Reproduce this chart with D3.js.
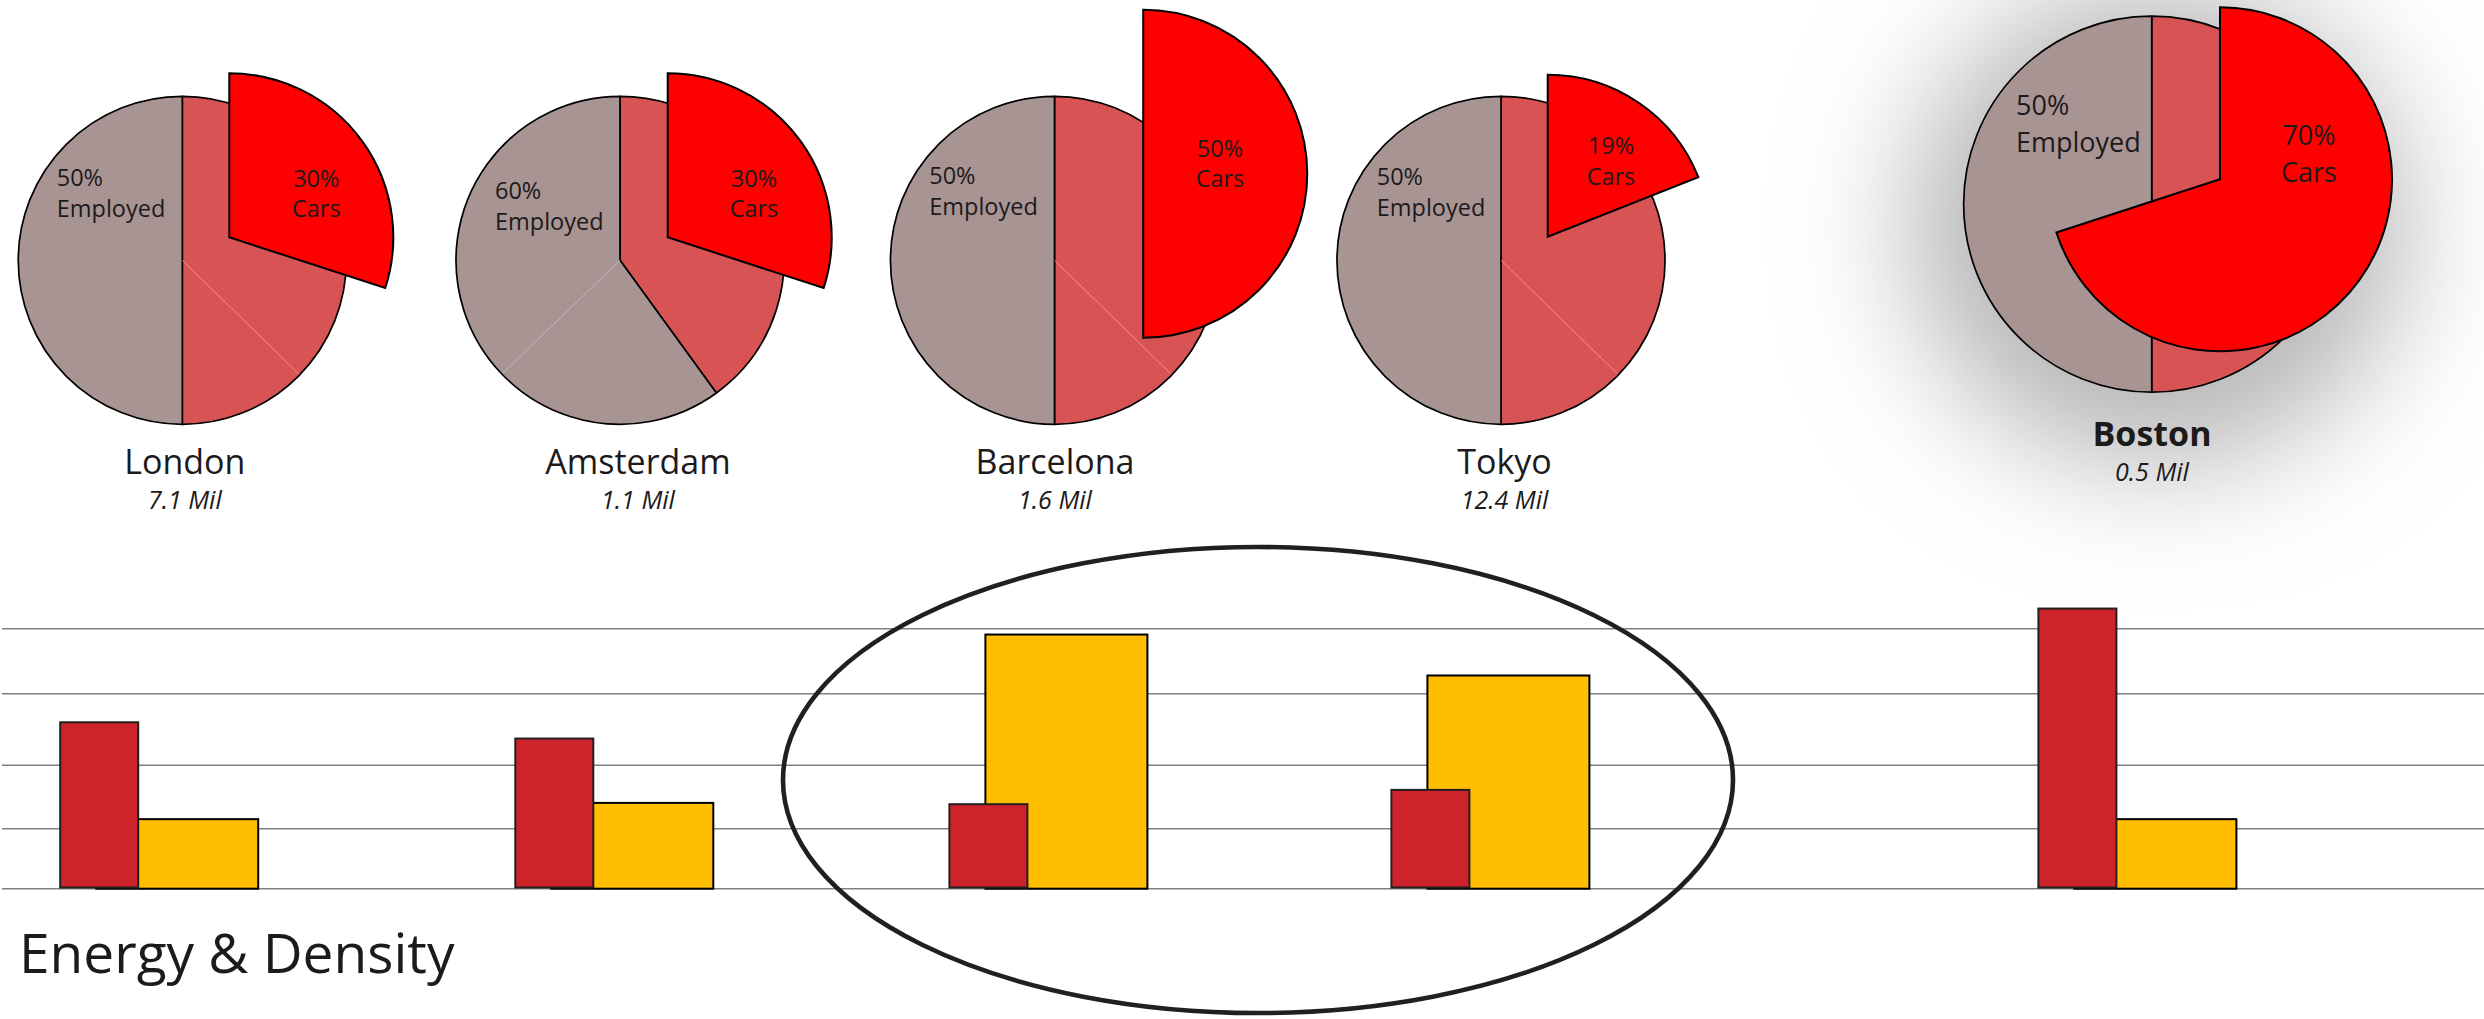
<!DOCTYPE html>
<html>
<head>
<meta charset="utf-8">
<title>Cars, Employment, Energy &amp; Density</title>
<script src="https://cdn.jsdelivr.net/npm/d3@7"></script>
<style>
  html, body { margin: 0; padding: 0; background: #ffffff; }
  svg { display: block; }
  text { font-family: "Open Sans", "Noto Sans", "DejaVu Sans", sans-serif; fill: #1c1a1a; }
</style>
</head>
<body>
<svg id="chart" width="2484" height="1019"></svg>
<script>
// ---- data ----------------------------------------------------------
const cities      = ["London", "Amsterdam", "Barcelona", "Tokyo", "Boston"];
const population  = ["7.1 Mil", "1.1 Mil", "1.6 Mil", "12.4 Mil", "0.5 Mil"];
const employedPct = [50, 60, 50, 50, 50];
const carsPct     = [30, 30, 50, 19, 70];
const energy      = [2.56, 2.31, 1.30, 1.52, 4.31];   // red bars
const density     = [1.07, 1.32, 3.91, 3.28, 1.07];   // yellow bars
const gridValues  = [0, 0.923, 1.9, 3, 4];
const highlight   = "Boston";

// ---- layout --------------------------------------------------------
const W = 2484, H = 1019;
const svg = d3.select("#chart");

const pieX   = d3.scaleOrdinal().domain(cities).range([182.3, 620, 1054.5, 1501, 2151.7]);
const pieY   = d3.scaleOrdinal().domain(cities).range([260.3, 260.3, 260.3, 260.3, 204.2]);
const pieR   = d3.scaleOrdinal().domain(cities).range([164, 164, 164, 164, 188]);
const sliceR = d3.scaleOrdinal().domain(cities).range([164, 164, 164, 162, 172]);
// how far the car slice is pulled out of its pie
const explode = d3.scaleOrdinal().domain(cities)
  .range([[47, -23], [47.7, -23], [88.7, -86.6], [46.7, -23.6], [68.3, -24.9]]);
// thin light seam left inside each base pie (angle in turns, null = none)
const seam = d3.scaleOrdinal().domain(cities).range([0.373, 0.628, 0.373, 0.373, null]);
// label anchors (relative to pie centre / slice tip)
const empLabel = d3.scaleOrdinal().domain(cities)
  .range([[-125.6, -74.3], [-125, -61], [-125.3, -76], [-124.3, -75.3], [-135.7, -89]]);
const carLabel = d3.scaleOrdinal().domain(cities)
  .range([[87, -50.6], [86.3, -50.6], [76.8, -17.2], [63.3, -82.7], [89, -34.3]]);
const nameShift = d3.scaleOrdinal().domain(cities).range([2.5, 18, 0.5, 3.5, 0.3]);

const rows = cities.map((c, i) => ({
  city: c, pop: population[i], emp: employedPct[i], cars: carsPct[i],
  energy: energy[i], density: density[i]
}));

const defs = svg.append("defs");
const glow = defs.append("filter").attr("id", "glow")
  .attr("x", "-80%").attr("y", "-80%").attr("width", "260%").attr("height", "260%");
glow.append("feGaussianBlur").attr("stdDeviation", 62);

// soft halo behind the highlighted city
svg.append("ellipse")
  .attr("cx", pieX(highlight) + 6).attr("cy", 226)
  .attr("rx", 248).attr("ry", 240)
  .attr("fill", "#b6b6b6")
  .attr("filter", "url(#glow)");

// ---- pies ----------------------------------------------------------
const pie = d3.pie().sort(null).value(d => d.v);
const TAU = 2 * Math.PI;

const pieG = svg.append("g").selectAll("g.city")
  .data(rows).join("g")
  .attr("class", "city")
  .attr("transform", d => `translate(${pieX(d.city)},${pieY(d.city)})`);

pieG.each(function (d) {
  const g = d3.select(this);
  const r = pieR(d.city);
  const arc = d3.arc().innerRadius(0).outerRadius(r);
  const parts = pie([{ k: "rest", v: 100 - d.emp }, { k: "employed", v: d.emp }]);

  g.selectAll("path.base").data(parts).join("path")
    .attr("class", "base")
    .attr("d", arc)
    .attr("fill", p => p.data.k === "employed" ? "#a99494" : "#d85454")
    .attr("stroke", "#000")
    .attr("stroke-width", 1.7)
    .attr("stroke-linejoin", "round");

  const s = seam(d.city);
  if (s !== null) {
    const end = d3.pointRadial(s * TAU, r - 1.5);
    const inGray = s > (100 - d.emp) / 100;
    g.append("line")
      .attr("x1", 0).attr("y1", 0).attr("x2", end[0]).attr("y2", end[1])
      .attr("stroke", inGray ? "#c9b8b8" : "#eb9c9c")
      .attr("stroke-width", 0.9);
  }

  // exploded car slice
  const [dx, dy] = explode(d.city);
  const slice = g.append("g").attr("transform", `translate(${dx},${dy})`);
  slice.append("path")
    .attr("d", d3.arc()({ innerRadius: 0, outerRadius: sliceR(d.city), startAngle: 0, endAngle: d.cars / 100 * TAU }))
    .attr("fill", "#ff0000")
    .attr("stroke", "#000")
    .attr("stroke-width", 2)
    .attr("stroke-linejoin", "miter");

  const big = d.city === highlight;
  const fs = big ? 27 : 23.5;
  const lh = big ? 36.7 : 30.5;

  const [cx, cy] = carLabel(d.city);
  const ct = slice.append("text").attr("text-anchor", "middle").style("font-size", fs + "px");
  ct.append("tspan").attr("x", cx).attr("y", cy).text(d.cars + "%");
  ct.append("tspan").attr("x", cx).attr("y", cy + lh).text("Cars");

  const [ex, ey] = empLabel(d.city);
  const et = g.append("text").attr("text-anchor", "start").style("font-size", fs + "px");
  et.append("tspan").attr("x", ex).attr("y", ey).text(d.emp + "%");
  et.append("tspan").attr("x", ex).attr("y", ey + lh).text("Employed");

  // city name and population
  const nameY = big ? 445.7 : 474;
  g.append("text")
    .attr("x", nameShift(d.city)).attr("y", nameY - pieY(d.city))
    .attr("text-anchor", "middle")
    .style("font-size", "34px")
    .style("font-weight", big ? 700 : 400)
    .attr("fill", "#000")
    .text(d.city);
  g.append("text")
    .attr("x", nameShift(d.city)).attr("y", nameY + 35.3 - pieY(d.city))
    .attr("text-anchor", "middle")
    .style("font-size", "25px")
    .style("font-style", "italic")
    .text(d.pop);
});

// ---- bars ----------------------------------------------------------
const y = d3.scaleLinear().domain([0, 4]).range([888.7, 628.7]);
const barX = d3.scaleOrdinal().domain(cities).range([60.2, 515.3, 949.4, 1391.4, 2038.4]);
const redW = 78, yelW = 162, yelOff = 36;

svg.append("g").selectAll("line.grid")
  .data(gridValues).join("line")
  .attr("class", "grid")
  .attr("x1", 2).attr("x2", W)
  .attr("y1", d => y(d)).attr("y2", d => y(d))
  .attr("stroke", "#808080")
  .attr("stroke-width", 1.6);

const bars = svg.append("g");
bars.selectAll("rect.density").data(rows).join("rect")
  .attr("class", "density")
  .attr("x", d => barX(d.city) + yelOff)
  .attr("y", d => y(d.density))
  .attr("width", yelW)
  .attr("height", d => y(0) - y(d.density))
  .attr("fill", "#ffbf00")
  .attr("stroke", "#000")
  .attr("stroke-width", 2);

bars.selectAll("rect.energy").data(rows).join("rect")
  .attr("class", "energy")
  .attr("x", d => barX(d.city))
  .attr("y", d => y(d.energy))
  .attr("width", redW)
  .attr("height", d => y(0) - y(d.energy) - 1.2)
  .attr("fill", "#cf232b")
  .attr("stroke", "#231f20")
  .attr("stroke-width", 2);

// ring around the two dense cities
svg.append("ellipse")
  .attr("cx", 1258).attr("cy", 780)
  .attr("rx", 475).attr("ry", 233)
  .attr("fill", "none")
  .attr("stroke", "#231f20")
  .attr("stroke-width", 4.6);

svg.append("text")
  .attr("x", 19).attr("y", 972.7)
  .style("font-size", "55px")
  .attr("fill", "#231f20")
  .text("Energy & Density");
</script>
</body>
</html>
